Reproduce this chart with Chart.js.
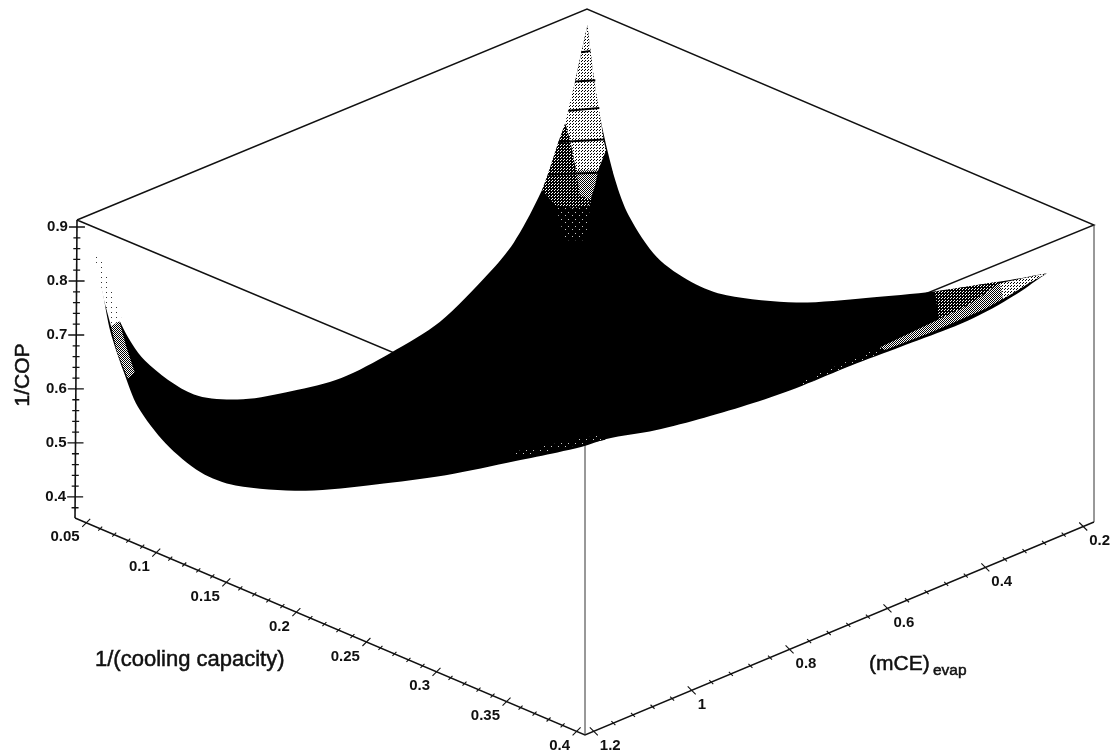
<!DOCTYPE html>
<html>

<head>
    <title>1/COP surface</title>
    <meta charset="utf-8">
    <script src="https://cdn.jsdelivr.net/npm/chart.js@4/dist/chart.umd.min.js"></script>
    <style>
        body {
            background: #fff;
            margin: 0;
        }

        canvas {
            display: block;
        }
    </style>
</head>

<body>
    <canvas id="surface-Chart" width="1116" height="756"></canvas>
    <script>
        // Axis ends and labelled ticks
        const capRange = [0.042, 0.406];
        const mceRange = [1.218, 0.178];
        const copRange = [0.361, 0.913];
        const capTicks = [0.05, 0.1, 0.15, 0.2, 0.25, 0.3, 0.35, 0.4];
        const mceTicks = [0.2, 0.4, 0.6, 0.8, 1, 1.2];
        const copTicks = [0.4, 0.5, 0.6, 0.7, 0.8, 0.9];
        const capMinor = [0.06, 0.07, 0.08, 0.09, 0.11, 0.12, 0.13, 0.14, 0.16, 0.17, 0.18, 0.19, 0.21, 0.22, 0.23, 0.24, 0.26, 0.27, 0.28, 0.29, 0.31, 0.32, 0.33, 0.34, 0.36, 0.37, 0.38, 0.39];
        const mceMinor = [0.24, 0.28, 0.32, 0.36, 0.44, 0.48, 0.52, 0.56, 0.64, 0.68, 0.72, 0.76, 0.84, 0.88, 0.92, 0.96, 1.04, 1.08, 1.12, 1.16];
        const copMinor = [0.38, 0.42, 0.44, 0.46, 0.48, 0.52, 0.54, 0.56, 0.58, 0.62, 0.64, 0.66, 0.68, 0.72, 0.74, 0.76, 0.78, 0.82, 0.84, 0.86, 0.88];

        // Surface edges, 1/COP
        const capGrid = [0.05, 0.055, 0.06, 0.07, 0.08, 0.1, 0.125, 0.15, 0.2, 0.25, 0.3, 0.35, 0.38];
        const copAtMceHigh = [0.848, 0.779, 0.720, 0.654, 0.602, 0.556, 0.530, 0.533, 0.578, 0.644, 0.715, 0.795, 0.843];
        const copAtMceLow = [0.900, 0.803, 0.731, 0.637, 0.581, 0.527, 0.508, 0.511, 0.552, 0.615, 0.682, 0.756, 0.803];
        const mceGrid = [1.2, 1.15, 1.1, 1, 0.9, 0.8, 0.7, 0.6, 0.5, 0.4, 0.35, 0.3, 0.25, 0.225, 0.2];
        const copAtCapLow = [0.848, 0.705, 0.617, 0.517, 0.471, 0.449, 0.436, 0.445, 0.465, 0.518, 0.555, 0.619, 0.707, 0.806, 0.900];
        const copAtCapHigh = [0.843, 0.835, 0.831, 0.810, 0.796, 0.786, 0.781, 0.781, 0.778, 0.775, 0.776, 0.781, 0.790, 0.797, 0.803];

        // Thin mesh areas near the peak, at cap = 0.05
        const peakLightMce = [0.200, 0.225, 0.239, 0.245, 0.235, 0.223, 0.178, 0.162, 0.166, 0.176, 0.186];
        const peakLightCop = [0.900, 0.806, 0.758, 0.737, 0.702, 0.642, 0.625, 0.656, 0.672, 0.735, 0.792];
        const peakDarkMce = [0.245, 0.259, 0.280, 0.292, 0.265, 0.225, 0.194, 0.190, 0.223, 0.235];
        const peakDarkCop = [0.737, 0.707, 0.657, 0.631, 0.593, 0.573, 0.567, 0.593, 0.642, 0.702];
        const peakMidMce = [0.223, 0.178, 0.184, 0.194, 0.215];
        const peakMidCop = [0.642, 0.625, 0.600, 0.576, 0.593];
        const peakSpeckMce = [0.265, 0.194, 0.204, 0.245];
        const peakSpeckCop = [0.593, 0.567, 0.506, 0.521];

        // Dark bands across the peak
        const bandMce = [0.2125, 0.225, 0.239, 0.259, 0.280];
        const bandCopLeft = [0.855, 0.806, 0.757, 0.707, 0.655];
        const bandCap = [0.052, 0.0557, 0.0586, 0.062, 0.068];
        const bandCopRight = [0.855, 0.805, 0.757, 0.703, 0.649];

        // Left tip, at cap = 0.05
        const tipFaintMce = [1.204, 1.194, 1.147, 1.170, 1.184];
        const tipFaintCop = [0.849, 0.847, 0.708, 0.707, 0.758];
        const tipMidMce = [1.170, 1.153, 1.139, 1.121, 1.135, 1.157];
        const tipMidCop = [0.707, 0.710, 0.659, 0.603, 0.597, 0.653];

        // Right tip, at cap = 0.38
        const rightDarkMce = [0.429, 0.302, 0.302, 0.378, 0.418];
        const rightDarkCop = [0.854, 0.825, 0.806, 0.783, 0.784];
        const rightMidMce = [0.302, 0.200, 0.235, 0.276, 0.327, 0.439, 0.531, 0.541, 0.439, 0.367, 0.327];
        const rightMidCop = [0.821, 0.803, 0.799, 0.791, 0.784, 0.782, 0.784, 0.793, 0.799, 0.803, 0.812];
        const rightLightMce = [0.296, 0.200, 0.235, 0.276, 0.290];
        const rightLightCop = [0.820, 0.803, 0.799, 0.791, 0.789];
        const rightStripMce = [0.704, 0.541, 0.531, 0.698];
        const rightStripCop = [0.790, 0.793, 0.782, 0.783];
        const frontSpeckMce = [1.296, 1.112, 1.102, 1.276];
        const frontSpeckCop = [0.878, 0.843, 0.830, 0.864];

        // Box corners on the page, bottom then top: low/low, high/low, high/high, low/high (cap/mce index)
        const boxBottom = [[75, 518], [585, 735], [1094, 522], [587, 309]];
        const boxTop = [[77, 220], [585, 433], [1094, 225], [587, 9]];

        function lerp(a, b, t) {
            return a + (b - a) * t;
        }

        // 3D value -> page position, used as the hidden x/y scale values
        function project(cap, mce, cop) {
            var u = (cap - capRange[0]) / (capRange[1] - capRange[0]);
            var v = (mce - mceRange[0]) / (mceRange[1] - mceRange[0]);
            var w = (cop - copRange[0]) / (copRange[1] - copRange[0]);
            var at = (box, i) => lerp(
                lerp(box[0][i], box[1][i], u),
                lerp(box[3][i], box[2][i], u), v);
            return { x: lerp(at(boxBottom, 0), at(boxTop, 0), w), y: lerp(at(boxBottom, 1), at(boxTop, 1), w) };
        }

        // Dot tile used to imitate the scanned mesh
        function stipple(size, ground, ink, dots) {
            var tile = document.createElement('canvas');
            tile.width = size;
            tile.height = size;
            var ctx = tile.getContext('2d');
            ctx.fillStyle = ground;
            ctx.fillRect(0, 0, size, size);
            ctx.fillStyle = ink;
            dots.forEach(d => ctx.fillRect(d[0], d[1], 1, 1));
            return tile.getContext('2d').createPattern(tile, 'repeat');
        }

        const toneFaint = stipple(5, '#fff', '#333', [[1, 2]]);
        const toneLight = stipple(3, '#fff', '#000', [[0, 0], [2, 1]]);
        const toneMid = stipple(2, '#fff', '#000', [[0, 0], [1, 1]]);
        const toneDark = stipple(3, '#000', '#fff', [[0, 0], [2, 1]]);
        const toneSpeck = stipple(7, '#000', '#ccc', [[1, 2], [5, 5]]);

        var datasets = [];

        function addLine(points, color, width) {
            datasets.push({ data: points, borderColor: color, borderWidth: width, pointRadius: 0, fill: false, tension: 0 });
        }

        function addShape(points, fillStyle, tension) {
            datasets.push({ data: points, borderWidth: 0, borderColor: 'rgba(0,0,0,0)', backgroundColor: fillStyle, pointRadius: 0, fill: 'shape', tension: tension || 0 });
        }

        function patch(cap, mces, cops) {
            return mces.map((m, i) => project(cap, m, cops[i]));
        }

        function tickMarks(values, toPoint, dx, dy) {
            var points = [];
            values.forEach(val => {
                var p = toPoint(val);
                points.push({ x: p.x - dx, y: p.y - dy }, { x: p.x + dx, y: p.y + dy }, { x: NaN, y: NaN });
            });
            return points;
        }

        const capAxis = (c) => project(c, mceRange[0], copRange[0]);
        const mceAxis = (m) => project(capRange[1], m, copRange[0]);
        const copAxis = (z) => project(capRange[0], mceRange[0], z);

        // Box
        var cLo = capRange[0], cHi = capRange[1], mLo = mceRange[0], mHi = mceRange[1], zLo = copRange[0], zHi = copRange[1];
        addLine([project(cLo, mLo, zHi), project(cHi, mLo, zHi), project(cHi, mHi, zHi), project(cLo, mHi, zHi), project(cLo, mLo, zHi)], '#111', 1.4);
        addLine([project(cLo, mLo, zLo), project(cHi, mLo, zLo), project(cHi, mHi, zLo)], '#111', 1.4);
        addLine([project(cLo, mLo, zLo), project(cLo, mLo, zHi)], '#111', 1.6);
        addLine([project(cHi, mLo, zLo), project(cHi, mLo, zHi)], '#333', 1);
        addLine([project(cHi, mHi, zLo), project(cHi, mHi, zHi)], '#333', 1);

        // Axis ticks
        addLine(tickMarks(capTicks, capAxis, 4, -4), '#111', 1.1);
        addLine(tickMarks(capMinor, capAxis, 2, -2), '#111', 1.1);
        addLine(tickMarks(mceTicks, mceAxis, 4, 4), '#111', 1.1);
        addLine(tickMarks(mceMinor, mceAxis, 2, 2), '#111', 1.1);
        addLine(tickMarks(copTicks, copAxis, 8, 0), '#111', 1.3);
        addLine(tickMarks(copMinor, copAxis, 3.5, 0), '#111', 1.3);

        // Surface outline, walked round its four edges
        var outline = [];
        capGrid.forEach((c, i) => outline.push(project(c, 1.2, copAtMceHigh[i])));
        mceGrid.forEach((m, i) => outline.push(project(0.38, m, copAtCapHigh[i])));
        capGrid.slice().reverse().forEach((c, i) => outline.push(project(c, 0.2, copAtMceLow[capGrid.length - 1 - i])));
        mceGrid.slice().reverse().forEach((m, i) => outline.push(project(0.05, m, copAtCapLow[mceGrid.length - 1 - i])));
        addShape(outline, '#000', 0.3);

        // Thin mesh areas
        addShape(patch(0.05, peakSpeckMce, peakSpeckCop), toneSpeck);
        addShape(patch(0.05, peakDarkMce, peakDarkCop), toneDark);
        addShape(patch(0.05, peakMidMce, peakMidCop), toneMid);
        addShape(patch(0.05, peakLightMce, peakLightCop), toneLight);
        addShape(patch(0.05, tipFaintMce, tipFaintCop), toneFaint);
        addShape(patch(0.05, tipMidMce, tipMidCop), toneMid);
        addShape(patch(0.38, rightDarkMce, rightDarkCop), toneDark);
        addShape(patch(0.38, rightMidMce, rightMidCop), toneMid);
        addShape(patch(0.38, rightLightMce, rightLightCop), toneLight);
        addShape(patch(0.38, rightStripMce, rightStripCop), toneSpeck);
        addShape(patch(0.38, frontSpeckMce, frontSpeckCop), toneSpeck);

        // Bands
        bandMce.forEach((m, i) => {
            addLine([project(0.05, m, bandCopLeft[i]), project(bandCap[i], 0.2, bandCopRight[i])], '#000', 2);
        });

        // Chart.js paints the first dataset last, the list above is back to front
        datasets.reverse();

        // Tick labels and axis titles
        const labelsPlugin = {
            id: 'axisText',
            afterDraw(chart) {
                var ctx = chart.ctx;
                var sx = chart.scales.x, sy = chart.scales.y;
                var title = (text, x, y) => {
                    ctx.fillText(text, x, y);
                    ctx.strokeText(text, x, y);
                };
                ctx.save();
                ctx.fillStyle = '#111';
                ctx.strokeStyle = '#111';
                ctx.lineWidth = 0.5;
                ctx.textBaseline = 'middle';
                ctx.font = 'bold 15px "Liberation Sans"';

                ctx.textAlign = 'right';
                copTicks.forEach(t => {
                    var p = copAxis(t);
                    ctx.fillText(String(t), sx.getPixelForValue(p.x) - 9, sy.getPixelForValue(p.y));
                });
                capTicks.forEach(t => {
                    var p = capAxis(t);
                    ctx.fillText(String(t), sx.getPixelForValue(p.x) - 6.5, sy.getPixelForValue(p.y) + 14.5);
                });
                ctx.textAlign = 'left';
                mceTicks.forEach(t => {
                    var p = mceAxis(t);
                    ctx.fillText(String(t), sx.getPixelForValue(p.x) + 6, sy.getPixelForValue(p.y) + 14.5);
                });

                ctx.textBaseline = 'alphabetic';
                ctx.font = '22px "Liberation Sans"';
                title('1/(cooling capacity)', 95, 666);
                ctx.font = '21px "Liberation Sans"';
                title('(mCE)', 869, 670);
                ctx.font = '15.5px "Liberation Sans"';
                title('evap', 933, 675);

                ctx.font = '21px "Liberation Sans"';
                ctx.textAlign = 'center';
                ctx.translate(29, 375);
                ctx.rotate(-Math.PI / 2);
                title('1/COP', 0, 0);
                ctx.restore();
            }
        };

        var surfaceChart = new Chart(document.getElementById('surface-Chart'), {
            type: 'line',
            data: { datasets: datasets },
            options: {
                responsive: false,
                animation: false,
                layout: { padding: 0 },
                plugins: { legend: { display: false }, tooltip: { enabled: false } },
                scales: {
                    x: { type: 'linear', display: false, min: 0, max: 1116 },
                    y: { type: 'linear', display: false, min: 0, max: 756, reverse: true }
                }
            },
            plugins: [labelsPlugin]
        });
    </script>
</body>

</html>
